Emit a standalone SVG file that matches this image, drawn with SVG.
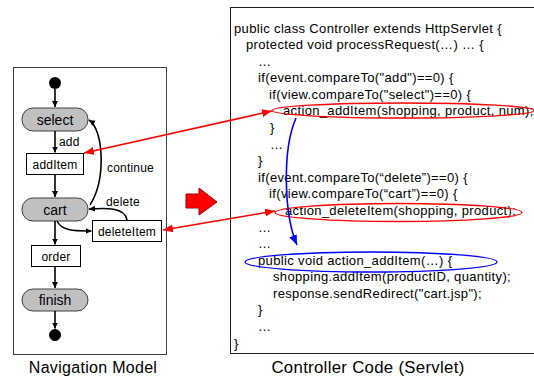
<svg xmlns="http://www.w3.org/2000/svg" width="534" height="380" viewBox="0 0 534 380">
<style>
text{font-family:"Liberation Sans",Arial,sans-serif;fill:#000}
.code{font-size:13px;letter-spacing:0.35px}
.st{font-size:14px;text-anchor:middle}
.bx{font-size:12px;text-anchor:middle;letter-spacing:0.2px}
.lbl{font-size:12px;letter-spacing:0.2px}
.cap{font-size:16px;text-anchor:middle;letter-spacing:0.3px}
.state{fill:#c0c0c0;stroke:#404040;stroke-width:1}
.box{fill:#fff;stroke:#000;stroke-width:1}
.e{fill:none;stroke:#000;stroke-width:1.6}
.r{fill:none;stroke:#ff0000;stroke-width:1.6}
.b{fill:none;stroke:#0000ff;stroke-width:1.6}
</style>
<defs>
<marker id="ah" markerUnits="userSpaceOnUse" markerWidth="8" markerHeight="8" refX="6" refY="3" orient="auto"><path d="M0,0 L6,3 L0,6 z" fill="#000"/></marker>
<marker id="rh" markerUnits="userSpaceOnUse" markerWidth="12" markerHeight="10" refX="10" refY="4" orient="auto-start-reverse"><path d="M0,0 L10,4 L0,8 z" fill="#ff0000"/></marker>
<marker id="bh" markerUnits="userSpaceOnUse" markerWidth="12" markerHeight="10" refX="10" refY="4" orient="auto"><path d="M0,0 L10,4 L0,8 z" fill="#0000ff"/></marker>
</defs>

<g id="navigation-panel">
<rect x="13.5" y="67.5" width="153" height="287" fill="#fff" stroke="#404040" stroke-width="1"/>
<text class="cap" x="93" y="373">Navigation Model</text>
</g>

<g id="code-panel">
<rect x="230.5" y="7.5" width="320" height="346" fill="#fff" stroke="#202020" stroke-width="1"/>
<text class="cap" x="368" y="373" style="font-size:16.8px">Controller Code (Servlet)</text>
<text class="code" x="234" y="32.5">public class Controller extends HttpServlet {</text>
<text class="code" x="246" y="49.1">protected void processRequest(…) … {</text>
<text class="code" x="258" y="65.7">…</text>
<text class="code" x="258" y="82.2">if(event.compareTo("add")==0) {</text>
<text class="code" x="269" y="98.8">if(view.compareTo("select")==0) {</text>
<text class="code" x="283" y="115.4">action_addItem(shopping, product, num);</text>
<text class="code" x="270" y="132">}</text>
<text class="code" x="270" y="148.6">…</text>
<text class="code" x="258" y="165.1">}</text>
<text class="code" x="258" y="181.7">if(event.compareTo(“delete”)==0) {</text>
<text class="code" x="269" y="198.3">if(view.compareTo(“cart”)==0) {</text>
<text class="code" x="285" y="214.9">action_deleteItem(shopping, product);</text>
<text class="code" x="258" y="231.5">…</text>
<text class="code" x="258" y="248">…</text>
<text class="code" x="258" y="264.6">public void action_addItem(…) {</text>
<text class="code" x="273" y="281.2">shopping.addItem(productID, quantity);</text>
<text class="code" x="273" y="297.8">response.sendRedirect("cart.jsp");</text>
<text class="code" x="258" y="314.4">}</text>
<text class="code" x="258" y="330.9">…</text>
<text class="code" x="234" y="347.5">}</text>
</g>

<g id="start"><circle cx="55" cy="83" r="6" fill="#000"/></g>
<g id="select"><rect class="state" x="22" y="108" width="66" height="23" rx="11"/><text class="st" x="55" y="124.5">select</text></g>
<g id="addItem"><rect class="box" x="26.5" y="153.5" width="57" height="21"/><text class="bx" x="55" y="168.5">addItem</text></g>
<g id="cart"><rect class="state" x="22" y="198" width="66" height="23" rx="11"/><text class="st" x="55" y="214.5">cart</text></g>
<g id="deleteItem"><rect class="box" x="92.5" y="220.5" width="69" height="21"/><text class="bx" x="127" y="235.5">deleteItem</text></g>
<g id="order"><rect class="box" x="31.5" y="245.5" width="49" height="21"/><text class="bx" x="56" y="260.5">order</text></g>
<g id="finish"><rect class="state" x="22" y="289" width="66" height="22" rx="11"/><text class="st" x="55" y="304.5">finish</text></g>
<g id="end"><circle cx="55" cy="335" r="5.5" fill="#000" stroke="#000" stroke-width="1"/></g>

<g id="big-arrow"><polygon points="186,194 199,194 199,188 217,202 199,215 199,208 186,208" fill="#ff0000" stroke="#a00000" stroke-width="1"/></g>

<g id="connectors">
<path class="e" d="M55,89 L55,107" marker-end="url(#ah)"/>
<path class="e" d="M55,131 L55,152.5" marker-end="url(#ah)"/>
<path class="e" d="M55,174.5 L55,197" marker-end="url(#ah)"/>
<path class="e" d="M55,221 L55,244.5" marker-end="url(#ah)"/>
<path class="e" d="M55,266.5 L55,288" marker-end="url(#ah)"/>
<path class="e" d="M55,311 L55,328.5" marker-end="url(#ah)"/>
<path class="e" d="M90,205 C106,180 104,130 89,120" marker-end="url(#ah)"/>
<path class="e" d="M127,220 C125,207 106,208 89,209" marker-end="url(#ah)"/>
<path class="e" d="M57,221 C62,232 78,231 91.5,231" marker-end="url(#ah)"/>
<text class="lbl" x="59" y="146">add</text>
<text class="lbl" x="107" y="172">continue</text>
<text class="lbl" x="106" y="206">delete</text>
<ellipse cx="403" cy="110.5" rx="131" ry="7.5" fill="none" stroke="#ff0000" stroke-width="1.3"/>
<ellipse cx="398.5" cy="212.5" rx="123.5" ry="9" fill="none" stroke="#ff0000" stroke-width="1.3"/>
<ellipse cx="371" cy="262" rx="126" ry="10" fill="none" stroke="#0000ff" stroke-width="1.3"/>
<path class="r" d="M84,153 L272,111" marker-start="url(#rh)" marker-end="url(#rh)"/>
<path class="r" d="M163,230 L275,211" marker-start="url(#rh)" marker-end="url(#rh)"/>
<path class="b" d="M296,118 C282,150 284,215 297,245" marker-end="url(#bh)"/>
</g>
</svg>
